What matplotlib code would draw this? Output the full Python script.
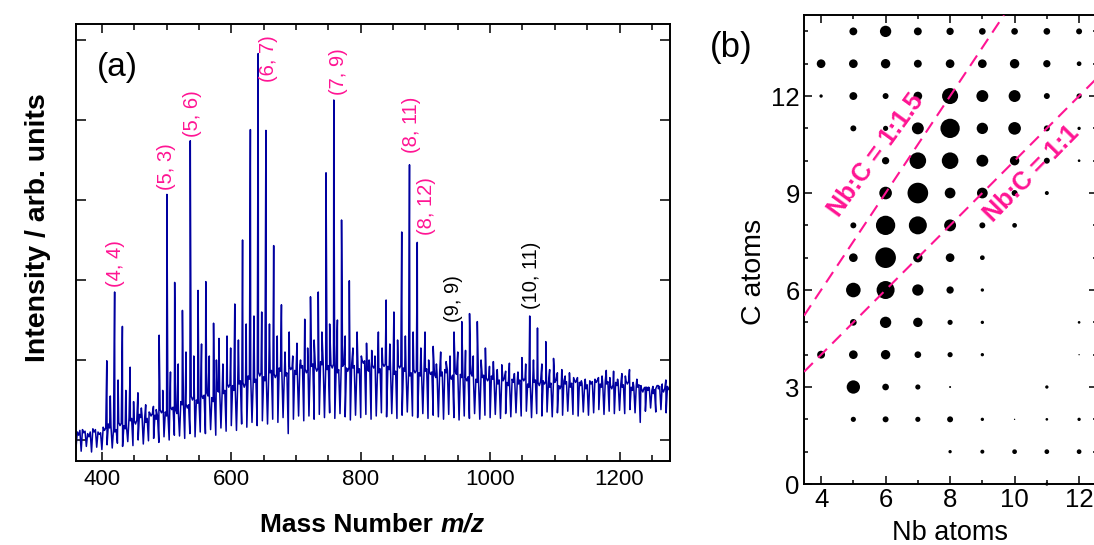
#!/usr/bin/python

import numpy as np
import matplotlib.pyplot as plt
from matplotlib.ticker import MultipleLocator

plt.rcParams['font.family'] = ['Liberation Sans', 'DejaVu Sans']

BLUE = '#0000a0'
PINK = '#ff1493'

# (a) cluster peaks Nb_nC_m+ : m/z and height (arb. units)
peak_mz = [407.6, 419.7, 431.7, 443.7, 455.7, 467.7, 479.7, 488.5, 500.5, 512.5,
           524.5, 536.6, 548.6, 560.6, 572.6, 581.0, 593.4, 605.4, 617.4, 629.5,
           641.5, 653.5, 665.5, 677.5, 689.5, 701.5, 713.5, 722.4, 734.4, 746.4,
           758.4, 770.4, 782.4, 794.4, 809.0, 817.0, 827.3, 839.3, 851.3, 863.4,
           875.4, 887.4, 899.4, 912.0, 923.6, 944.2, 956.2, 968.2, 980.2, 992.7,
           1005.0, 1018.0, 1029.8, 1037.5, 1049.2, 1061.2, 1073.2, 1086.0, 1098.0, 1110.8,
           1122.6, 1135.0, 1147.0, 1167.5, 1179.5, 1190.8, 1203.6, 1215.4, 1226.8, 1239.7,
           1251.6, 1260.0, 1271.6]
peak_int = [0.99, 1.85, 1.42, 0.91, 0.59, 0.44, 0.42, 1.31, 3.07, 1.97,
            1.62, 3.74, 1.87, 1.98, 1.46, 1.27, 1.30, 1.70, 2.50, 3.88,
            4.83, 3.87, 2.43, 1.69, 1.35, 1.21, 1.51, 1.79, 1.85, 3.34,
            4.25, 2.75, 1.99, 1.35, 1.21, 1.12, 1.35, 1.75, 1.60, 2.60,
            3.44, 2.47, 1.35, 1.17, 1.10, 1.35, 1.48, 1.58, 1.48, 1.15,
            0.98, 0.94, 0.96, 0.83, 1.03, 1.55, 1.40, 1.23, 1.02, 0.88,
            0.84, 0.78, 0.76, 0.78, 0.87, 0.86, 0.83, 0.88, 0.76, 0.66,
            0.67, 0.68, 0.75]

# (a) smaller satellite peaks between the main ones
sat_mz = [413, 425, 437, 449, 461, 473, 484, 494, 506, 518,
          530, 542, 554, 566, 577, 587, 599, 611, 623, 635,
          647, 659, 671, 683, 695, 707, 718, 728, 740, 752,
          764, 776, 788, 801, 813, 822, 833, 845, 857, 869,
          881, 893, 905, 917, 932, 938, 950, 962, 974, 986,
          999, 1011, 1024, 1043, 1055, 1067, 1080, 1092, 1104, 1116,
          1129, 1141, 1157, 1173, 1185, 1197, 1209, 1221, 1233, 1245,
          1256, 1266]
sat_int = [0.55, 0.75, 0.62, 0.48, 0.40, 0.35, 0.38, 0.62, 0.85, 0.95,
           1.10, 1.05, 1.20, 1.05, 1.00, 0.95, 1.15, 1.25, 1.45, 1.55,
           1.60, 1.45, 1.30, 1.10, 1.05, 1.00, 1.15, 1.25, 1.35, 1.45,
           1.50, 1.30, 1.15, 1.05, 1.00, 1.05, 1.15, 1.20, 1.25, 1.30,
           1.35, 1.15, 1.00, 0.95, 0.98, 1.05, 1.10, 1.12, 1.05, 1.00,
           0.92, 0.88, 0.86, 0.85, 0.95, 1.00, 0.95, 0.88, 0.84, 0.80,
           0.78, 0.74, 0.72, 0.80, 0.78, 0.76, 0.80, 0.72, 0.68, 0.66,
           0.64, 0.70]

# (a) noisy background, read every 4 amu from m/z 360 (valleys / mid points)
bg_start = 360
bg_step = 4
bg_int = [
    -0.10, 0.06, -0.14, 0.09, -0.08, 0.04, -0.15, 0.10, -0.09, 0.07,
    -0.12, 0.12, -0.06, 0.15, -0.10, 0.10, -0.04, 0.18, -0.08, 0.14,
    -0.02, 0.24, -0.07, 0.20, 0.00, 0.28, -0.05, 0.22, -0.01, 0.30,
    0.02, 0.26, -0.03, 0.34, 0.04, 0.30, 0.00, 0.38, 0.06, 0.33,
    0.05, 0.44, 0.02, 0.40, 0.08, 0.50, 0.04, 0.46, 0.10, 0.52,
    0.08, 0.55, 0.13, 0.48, 0.06, 0.60, 0.15, 0.58, 0.11, 0.66,
    0.18, 0.62, 0.12, 0.70, 0.20, 0.66, 0.16, 0.76, 0.22, 0.72,
    0.18, 0.80, 0.24, 0.74, 0.20, 0.84, 0.26, 0.78, 0.22, 0.86,
    0.28, 0.80, 0.08, 0.88, 0.26, 0.82, 0.30, 0.90, 0.24, 0.84,
    0.30, 0.92, 0.26, 0.86, 0.32, 0.94, 0.28, 0.88, 0.34, 0.90,
    0.27, 0.84, 0.33, 0.92, 0.29, 0.86, 0.25, 0.90, 0.31, 0.84,
    0.28, 0.96, 0.32, 0.86, 0.26, 0.90, 0.30, 0.84, 0.34, 0.92,
    0.29, 0.88, 0.33, 0.82, 0.27, 0.90, 0.31, 0.86, 0.35, 0.80,
    0.30, 0.84, 0.28, 0.80, 0.33, 0.86, 0.27, 0.82, 0.31, 0.78,
    0.29, 0.80, 0.26, 0.84, 0.32, 0.76, 0.28, 0.82, 0.25, 0.78,
    0.30, 0.74, 0.27, 0.80, 0.33, 0.72, 0.26, 0.78, 0.31, 0.74,
    0.28, 0.76, 0.32, 0.70, 0.27, 0.74, 0.33, 0.68, 0.29, 0.72,
    0.34, 0.70, 0.30, 0.74, 0.36, 0.66, 0.28, 0.72, 0.33, 0.68,
    0.30, 0.70, 0.35, 0.66, 0.29, 0.72, 0.34, 0.64, 0.31, 0.70,
    0.36, 0.66, 0.32, 0.72, 0.30, 0.68, 0.35, 0.64, 0.31, 0.70,
    0.34, 0.72, 0.38, 0.66, 0.32, 0.70, 0.36, 0.64, 0.33, 0.68,
    0.37, 0.66, 0.33, 0.70, 0.38, 0.62, 0.34, 0.66, 0.22, 0.60,
    0.36, 0.62, 0.40, 0.58, 0.35, 0.64, 0.38, 0.60, 0.34, 0.63,
    0.36]

# (a) noise spikes in between, read every 4 amu from m/z 362
spike_start = 362
spike_int = [
    0.10, 0.12, 0.13, 0.11, 0.08, 0.10, 0.14, 0.13, 0.10, 0.09,
    0.16, 0.15, 0.20, 0.18, 0.14, 0.13, 0.22, 0.21, 0.18, 0.17,
    0.28, 0.27, 0.24, 0.25, 0.32, 0.31, 0.26, 0.27, 0.34, 0.33,
    0.31, 0.30, 0.38, 0.37, 0.35, 0.34, 0.42, 0.41, 0.38, 0.37,
    0.48, 0.47, 0.45, 0.44, 0.55, 0.54, 0.50, 0.51, 0.57, 0.56,
    0.60, 0.58, 0.53, 0.54, 0.65, 0.64, 0.63, 0.62, 0.70, 0.70,
    0.68, 0.67, 0.75, 0.74, 0.72, 0.71, 0.80, 0.79, 0.77, 0.76,
    0.85, 0.84, 0.79, 0.80, 0.88, 0.87, 0.83, 0.82, 0.90, 0.89,
    0.85, 0.84, 0.92, 0.91, 0.87, 0.86, 0.94, 0.93, 0.89, 0.88,
    0.96, 0.95, 0.91, 0.90, 0.98, 0.97, 0.92, 0.93, 0.94, 0.95,
    0.89, 0.88, 0.96, 0.95, 0.90, 0.91, 0.94, 0.93, 0.88, 0.89,
    1.00, 0.99, 0.90, 0.91, 0.94, 0.93, 0.88, 0.89, 0.96, 0.95,
    0.92, 0.91, 0.87, 0.86, 0.94, 0.93, 0.90, 0.89, 0.85, 0.84,
    0.88, 0.87, 0.84, 0.85, 0.90, 0.89, 0.86, 0.85, 0.82, 0.83,
    0.84, 0.85, 0.88, 0.87, 0.80, 0.81, 0.86, 0.85, 0.82, 0.81,
    0.78, 0.79, 0.84, 0.83, 0.76, 0.77, 0.82, 0.81, 0.78, 0.77,
    0.80, 0.79, 0.74, 0.75, 0.78, 0.77, 0.72, 0.73, 0.76, 0.75,
    0.74, 0.75, 0.78, 0.77, 0.70, 0.71, 0.76, 0.75, 0.72, 0.73,
    0.74, 0.73, 0.70, 0.71, 0.76, 0.75, 0.68, 0.69, 0.74, 0.73,
    0.70, 0.71, 0.76, 0.75, 0.72, 0.71, 0.68, 0.69, 0.74, 0.73,
    0.76, 0.75, 0.70, 0.71, 0.74, 0.73, 0.68, 0.69, 0.72, 0.71,
    0.70, 0.69, 0.74, 0.73, 0.66, 0.67, 0.70, 0.69, 0.64, 0.65,
    0.66, 0.65, 0.62, 0.63, 0.68, 0.67, 0.64, 0.65, 0.67, 0.66]

# (a) peak assignments (Nb atoms, C atoms)
label_text = ['(4, 4)', '(5, 3)', '(5, 6)', '(6, 7)', '(7, 9)',
              '(8, 11)', '(8, 12)', '(9, 9)', '(10, 11)']
label_mz = [421, 500.5, 540.7, 658, 765, 879, 901, 942.8, 1063.4]
label_int = [1.91, 3.12, 3.79, 4.47, 4.31, 3.59, 2.56, 1.47, 1.64]
label_color = [PINK, PINK, PINK, PINK, PINK, PINK, PINK, 'black', 'black']

# (b) relative abundance of Nb_nC_m, rows = C atoms, columns = Nb atoms
nb_atoms = [4, 5, 6, 7, 8, 9, 10, 11, 12]
c_atoms = [14, 13, 12, 11, 10, 9, 8, 7, 6, 5, 4, 3, 2, 1, 0]
abundance = [
    [0, 14, 29, 14, 12, 10, 10, 10, 8],
    [17, 17, 20, 14, 17, 17, 20, 12, 5],
    [2.5, 14, 8, 17, 58, 32, 32, 8, 6],
    [0, 8, 6, 32, 84, 29, 36, 8, 2.5],
    [0, 0, 12, 62, 62, 32, 20, 8, 1.6],
    [0, 0, 36, 96, 26, 26, 8, 3.6, 0],
    [0, 8, 84, 73, 32, 8, 5, 0, 0],
    [0, 17, 96, 20, 17, 5, 0, 0, 0],
    [0, 48, 73, 29, 12, 2.5, 0, 0, 0],
    [0, 10, 29, 20, 6, 2.5, 0, 0, 1.6],
    [14, 17, 20, 10, 6, 2.5, 0, 0, 0.4],
    [0, 40, 10, 6, 0.9, 0, 0, 2.5, 0],
    [0, 6, 8, 6, 8, 2.5, 0.4, 1.6, 2.5],
    [0, 0, 0, 0, 2.5, 3.6, 5, 5, 5],
    [0, 0, 0, 0, 0, 0, 0, 2.5, 0],
]
ratio_slopes = [1.5, 1.0]
ratio_text = ['Nb:C = 1:1.5', 'Nb:C = 1:1']

W, H = 1094, 545


def px(x, y):
  """pixel position -> figure fraction"""
  return x / W, 1 - y / H


def plotSpectrum(fig):
  ax = fig.add_axes([76 / W, (H - 461) / H, 594 / W, 437 / H])

  bg_mz = bg_start + bg_step * np.arange(len(bg_int))
  spike_mz = spike_start + bg_step * np.arange(len(spike_int))
  mz = np.concatenate([bg_mz, spike_mz, peak_mz, sat_mz])
  yy = np.concatenate([bg_int, spike_int, peak_int, sat_int])
  order = np.argsort(mz)
  ax.plot(mz[order], yy[order], color=BLUE, lw=1.1)

  for t, x, y, c in zip(label_text, label_mz, label_int, label_color):
    ax.text(x, y, t, rotation=90, ha='center', va='bottom', color=c, fontsize=14.5)

  ax.set_xlim(360, 1278)
  ax.set_ylim(-0.2625, 5.2)
  ax.xaxis.set_major_locator(MultipleLocator(200))
  ax.xaxis.set_minor_locator(MultipleLocator(50))
  ax.set_yticks(range(6))
  ax.tick_params(which='both', direction='in', top=True, right=True, width=1.1)
  ax.tick_params(axis='x', which='major', length=6.5, labelsize=16, pad=5.5)
  ax.tick_params(axis='x', which='minor', length=4.3)
  ax.tick_params(axis='y', which='major', length=7, labelleft=False)
  for s in ax.spines.values():
    s.set_linewidth(1.4)

  fig.text(*px(117, 67), '(a)', fontsize=24, ha='center', va='center')
  fig.text(*px(38, 228), 'Intensity / arb. units', rotation=90, fontsize=20.5,
           fontweight='bold', ha='center', va='center')
  t1 = fig.text(*px(260, 532), 'Mass Number ', fontsize=19, fontweight='bold',
                ha='left', va='baseline')
  ax.annotate('m/z', xy=(1, 0), xycoords=t1, fontsize=19, fontweight='bold',
              fontstyle='italic', ha='left', va='bottom', annotation_clip=False)
  return ax


def plotMap(fig):
  ax = fig.add_axes([804 / W, (H - 484) / H, (1097 - 804) / W, 469 / H])

  xs, ys, ss = [], [], []
  for row, c in zip(abundance, c_atoms):
    for a, n in zip(row, nb_atoms):
      if a > 0:
        xs.append(n)
        ys.append(c)
        ss.append(a)
  ax.scatter(xs, ys, s=np.array(ss) * 2.3, color='black', edgecolors='none',
             zorder=2, clip_on=False)

  for k in ratio_slopes:
    ax.axline((0, 0), slope=k, color=PINK, lw=1.5, dashes=(6, 3.6), zorder=3)
  ax.text(5.71, 10.18, ratio_text[0], rotation=54, color=PINK, fontsize=18,
          fontweight='bold', ha='center', va='center', rotation_mode='anchor', zorder=4)
  ax.text(10.54, 9.59, ratio_text[1], rotation=45.5, color=PINK, fontsize=18,
          fontweight='bold', ha='center', va='center', rotation_mode='anchor', zorder=4)

  ax.set_xlim(3.47, 3.47 + (1097 - 804) / 32.25)
  ax.set_ylim(0, 469 / 32.33)
  ax.xaxis.set_major_locator(MultipleLocator(2))
  ax.xaxis.set_minor_locator(MultipleLocator(1))
  ax.yaxis.set_major_locator(MultipleLocator(3))
  ax.yaxis.set_minor_locator(MultipleLocator(1))
  ax.tick_params(which='both', direction='in', top=True, right=True, width=1.1,
                 labelsize=18.5)
  ax.tick_params(which='major', length=5.5, pad=3)
  ax.tick_params(which='minor', length=3)
  for s in ax.spines.values():
    s.set_linewidth(1.4)

  fig.text(*px(731, 48), '(b)', fontsize=25, ha='center', va='center')
  fig.text(*px(754, 272), 'C atoms', rotation=90, fontsize=20.5, ha='center', va='center')
  fig.text(*px(950, 540), 'Nb atoms', fontsize=19.5, ha='center', va='baseline')
  return ax


def main():
  fig = plt.figure(figsize=(W / 100, H / 100), dpi=100)
  plotSpectrum(fig)
  plotMap(fig)
  fig.savefig('out.png', dpi=100)
  plt.close()


if __name__ == "__main__":
  main()
